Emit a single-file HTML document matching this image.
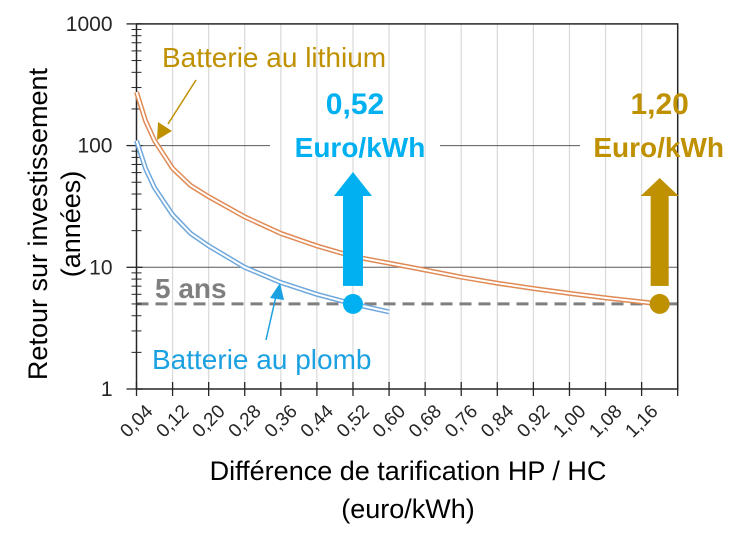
<!DOCTYPE html>
<html><head><meta charset="utf-8"><style>
body{margin:0;background:#fff}
svg text{font-family:"Liberation Sans",sans-serif}
</style></head><body>
<svg id="chart" width="754" height="546" viewBox="0 0 754 546" xmlns="http://www.w3.org/2000/svg">
<g id="grid"></g><g id="axes"></g><g id="series"></g><g id="annot"></g>
</svg>
<script>
const xTicks=[0.04,0.12,0.20,0.28,0.36,0.44,0.52,0.60,0.68,0.76,0.84,0.92,1.00,1.08,1.16];
const yTicks=[1,10,100,1000];
const lithiumX=[0.04,0.06,0.08,0.12,0.16,0.20,0.28,0.36,0.44,0.52,0.60,0.68,0.76,0.84,0.92,1.00,1.08,1.16,1.20];
const lithiumY=[275,160,110,65,47,38,26,19,15,12.3,10.8,9.5,8.3,7.4,6.7,6.1,5.6,5.2,5.0];
const leadX=[0.04,0.06,0.08,0.12,0.16,0.20,0.28,0.36,0.44,0.52,0.60];
const leadY=[110,65,45,27,19,15,10,7.5,6.0,5.0,4.3];
const targetX=[0.52,1.20];
const targetY=[5,5];
const NS="http://www.w3.org/2000/svg";
const X0=136.5,XW=451,YB=389,DEC=121.7;
const sx=v=>X0+(v-0.04)*XW;
const sy=v=>YB-Math.log10(v)*DEC;
const XR=sx(1.24);
function mk(p,tag,at){const e=document.createElementNS(NS,tag);for(const k in at)e.setAttribute(k,at[k]);p.appendChild(e);return e;}
const grid=document.getElementById('grid'),axes=document.getElementById('axes'),ser=document.getElementById('series'),ann=document.getElementById('annot');
for(let i=1;i<=15;i++){const x=X0+i*0.08*XW;const g=mk(grid,'line',{x1:x,x2:x,y1:sy(1000),y2:YB,stroke:'#d9d9d9','stroke-width':1.2});

}
let h=mk(grid,'line',{x1:X0,x2:270,y1:sy(100),y2:sy(100),stroke:'#595959','stroke-width':1});

h=mk(grid,'line',{x1:440,x2:580,y1:sy(100),y2:sy(100),stroke:'#595959','stroke-width':1});

h=mk(grid,'line',{x1:X0,x2:XR,y1:sy(10),y2:sy(10),stroke:'#595959','stroke-width':1});

h=mk(grid,'line',{x1:X0,x2:XR,y1:sy(5),y2:sy(5),stroke:'#7f7f7f','stroke-width':3,'stroke-dasharray':'12,7'});

const fr=mk(axes,'rect',{x:X0,y:sy(1000),width:XR-X0,height:YB-sy(1000),fill:'none',stroke:'#262626','stroke-width':1.5});

yTicks.forEach(v=>{const y=sy(v);
const t=mk(axes,'line',{x1:X0-10,x2:X0+6,y1:y,y2:y,stroke:'#262626','stroke-width':1.3});

const l=mk(axes,'text',{x:X0-24,y:y+7,'text-anchor':'end','font-size':21,fill:'#262626'});l.textContent=v;

if(v<1000)for(let m=2;m<=9;m++){const ym=sy(v*m);const mt=mk(axes,'line',{x1:X0-5,x2:X0+5,y1:ym,y2:ym,stroke:'#262626','stroke-width':1});
}
});
for(let i=0;i<=15;i++){const x=X0+i*0.08*XW;const t=mk(axes,'line',{x1:x,x2:x,y1:YB-7,y2:YB+7,stroke:'#262626','stroke-width':1.3});
}
xTicks.forEach(v=>{const x=sx(v)+8,y=YB+14;
const l=mk(axes,'text',{x:x,y:y,'text-anchor':'end','font-size':19,fill:'#262626',transform:`rotate(-45 ${x} ${y})`,dy:'0.7em'});l.textContent=v.toFixed(2).replace('.',',');
});
let tt=mk(axes,'text',{x:0,y:0,'text-anchor':'middle','font-size':27,fill:'#000',transform:'translate(47,224) rotate(-90)'});tt.textContent='Retour sur investissement';

tt=mk(axes,'text',{x:0,y:0,'text-anchor':'middle','font-size':27,fill:'#000',transform:'translate(80,224) rotate(-90)'});tt.textContent='(années)';

tt=mk(axes,'text',{x:408,y:480,'text-anchor':'middle','font-size':27,fill:'#000'});tt.textContent='Différence de tarification HP / HC';

tt=mk(axes,'text',{x:408,y:518,'text-anchor':'middle','font-size':27,fill:'#000'});tt.textContent='(euro/kWh)';

function curve(xs,ys,col,name){const d=xs.map((x,i)=>(i?'L':'M')+sx(x).toFixed(1)+','+sy(ys[i]).toFixed(1)).join('');
const a=mk(ser,'path',{d:d,fill:'none',stroke:col,'stroke-width':5});

const b=mk(ser,'path',{d:d,fill:'none',stroke:'#fff','stroke-width':2});
}
curve(lithiumX,lithiumY,'#e08a55','lithium-curve');
curve(leadX,leadY,'#6fa8dc','lead-curve');
const cols=['#00b0f0','#bf9000'];
targetX.forEach((v,i)=>{const x=sx(v),y=sy(targetY[i]);const c=cols[i];const w=i?18:20;
const s=mk(ann,'rect',{x:x-w/2,y:194,width:w,height:y-194-18,fill:c});

const hd=mk(ann,'polygon',{points:`${x-19},196 ${x+19},196 ${x},${i?178:172}`,fill:c});

const ci=mk(ann,'circle',{cx:x,cy:y,r:10,fill:c});

const t1=mk(ann,'text',{x:i?x:355,y:114,'text-anchor':'middle','font-size':30,'font-weight':'bold',fill:c});t1.textContent=v.toFixed(2).replace('.',',');

const t2=mk(ann,'text',{x:i?x-1:360,y:157,'text-anchor':'middle','font-size':28,'font-weight':'bold',fill:c});t2.textContent='Euro/kWh';

});
let t=mk(ann,'text',{x:155,y:298,'font-size':28,'font-weight':'bold',fill:'#7f7f7f'});t.textContent='5 ans';

t=mk(ann,'text',{x:162,y:67,'font-size':28,fill:'#bf9000'});t.textContent='Batterie au lithium';

t=mk(ann,'text',{x:152,y:369,'font-size':28,fill:'#1ba1e2'});t.textContent='Batterie au plomb';

let l=mk(ann,'line',{x1:196,y1:80,x2:168,y2:124,stroke:'#bf9000','stroke-width':1.5});

l=mk(ann,'polygon',{points:'157,140 158,122 172,131',fill:'#bf9000'});

l=mk(ann,'line',{x1:266,y1:340,x2:276,y2:296,stroke:'#1ba1e2','stroke-width':1.5});

l=mk(ann,'polygon',{points:'280,283 270,298 284,300',fill:'#1ba1e2'});

</script>
</body></html>
